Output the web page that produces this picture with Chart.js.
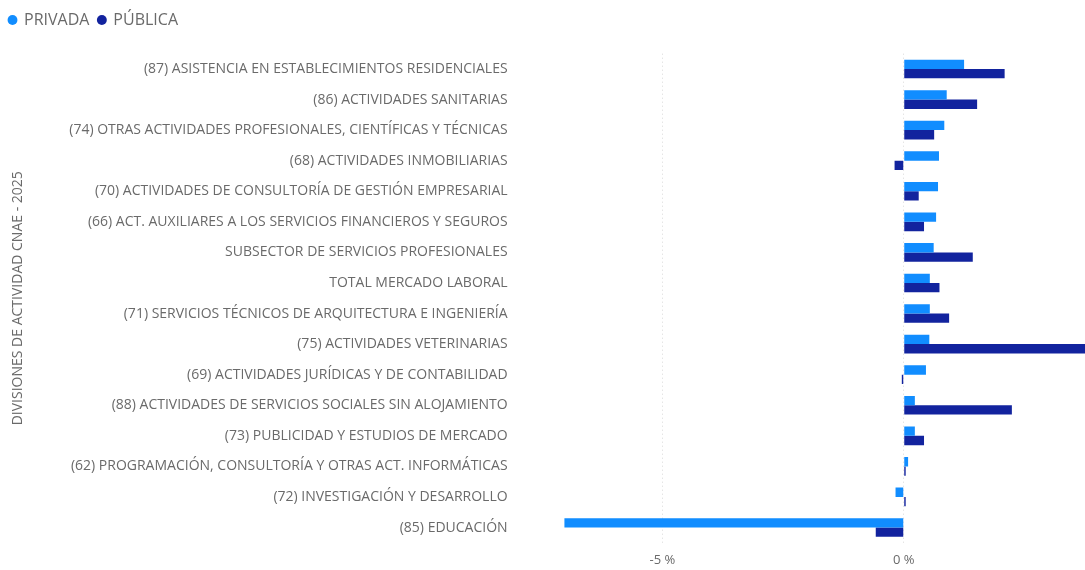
<!DOCTYPE html>
<html>
<head>
<meta charset="utf-8">
<script src="https://cdn.jsdelivr.net/npm/chart.js@4"></script>
<style>
html,body{margin:0;padding:0;background:#fff;}
#wrap{width:1085px;height:570px;position:relative;}
</style>
</head>
<body>
<div id="wrap"><canvas id="c" width="1085" height="570"></canvas></div>
<script>
const categories = [
  "(87) ASISTENCIA EN ESTABLECIMIENTOS RESIDENCIALES",
  "(86) ACTIVIDADES SANITARIAS",
  "(74) OTRAS ACTIVIDADES PROFESIONALES, CIENTÍFICAS Y TÉCNICAS",
  "(68) ACTIVIDADES INMOBILIARIAS",
  "(70) ACTIVIDADES DE CONSULTORÍA DE GESTIÓN EMPRESARIAL",
  "(66) ACT. AUXILIARES A LOS SERVICIOS FINANCIEROS Y SEGUROS",
  "SUBSECTOR DE SERVICIOS PROFESIONALES",
  "TOTAL MERCADO LABORAL",
  "(71) SERVICIOS TÉCNICOS DE ARQUITECTURA E INGENIERÍA",
  "(75) ACTIVIDADES VETERINARIAS",
  "(69) ACTIVIDADES JURÍDICAS Y DE CONTABILIDAD",
  "(88) ACTIVIDADES DE SERVICIOS SOCIALES SIN ALOJAMIENTO",
  "(73) PUBLICIDAD Y ESTUDIOS DE MERCADO",
  "(62) PROGRAMACIÓN, CONSULTORÍA Y OTRAS ACT. INFORMÁTICAS",
  "(72) INVESTIGACIÓN Y DESARROLLO",
  "(85) EDUCACIÓN"
];
const privada = [1.25, 0.89, 0.84, 0.73, 0.71, 0.67, 0.62, 0.54, 0.54, 0.53, 0.46, 0.23, 0.23, 0.09, -0.17, -7.03];
const publica = [2.09, 1.52, 0.63, -0.19, 0.31, 0.42, 1.43, 0.74, 0.94, 4.2, -0.04, 2.24, 0.42, 0.04, 0.04, -0.58];
const seriesNames = ["PRIVADA", "PÚBLICA"];
const xTicks = [-5, 0];
const axisTitle = "DIVISIONES DE ACTIVIDAD CNAE - 2025";

const FONT = "'Open Sans', 'Noto Sans', sans-serif";
const GRAY = "#6a6a6a";

const legendHeight = {
  id: 'legendHeight',
  beforeInit(chart) {
    const origFit = chart.legend.fit;
    chart.legend.fit = function () {
      origFit.bind(chart.legend)();
      this.height = 50.7;
    };
  }
};

new Chart(document.getElementById('c'), {
  type: 'bar',
  data: {
    labels: categories,
    datasets: [
      { label: seriesNames[0], data: privada, backgroundColor: '#118DFF', categoryPercentage: 0.61, barPercentage: 1.0 },
      { label: seriesNames[1], data: publica, backgroundColor: '#12239E', categoryPercentage: 0.61, barPercentage: 1.0 }
    ]
  },
  plugins: [legendHeight],
  options: {
    indexAxis: 'y',
    responsive: false,
    animation: false,
    layout: { padding: { left: 0, right: 0, top: 3, bottom: 0 } },
    plugins: {
      tooltip: { enabled: false },
      legend: {
        position: 'top',
        align: 'start',
        labels: {
          usePointStyle: true,
          pointStyle: 'circle',
          boxWidth: 7,
          boxHeight: 7,
          padding: 9,
          color: GRAY,
          font: { family: FONT, size: 16 }
        }
      }
    },
    scales: {
      x: {
        min: -8,
        max: 3.755,
        grid: { color: '#d9d9d9', drawTicks: false, lineWidth: 1 },
        border: { display: false, dash: [1, 3] },
        afterBuildTicks: (scale) => { scale.ticks = xTicks.map(v => ({ value: v })); },
        afterFit: (scale) => { scale.height = 27.2; },
        ticks: {
          padding: 10,
          color: GRAY,
          font: { family: FONT, size: 13 },
          callback: (v) => v + ' %'
        }
      },
      y: {
        grid: { display: false, drawTicks: false },
        border: { display: false },
        afterFit: (scale) => { scale.width = 517.6; },
        ticks: {
          padding: 10,
          color: GRAY,
          font: { family: FONT, size: 14 },
          autoSkip: false
        },
        title: {
          display: true,
          text: axisTitle,
          color: GRAY,
          font: { family: FONT, size: 14 },
          padding: { top: 9.6, bottom: 0 }
        }
      }
    }
  }
});
</script>
</body>
</html>
